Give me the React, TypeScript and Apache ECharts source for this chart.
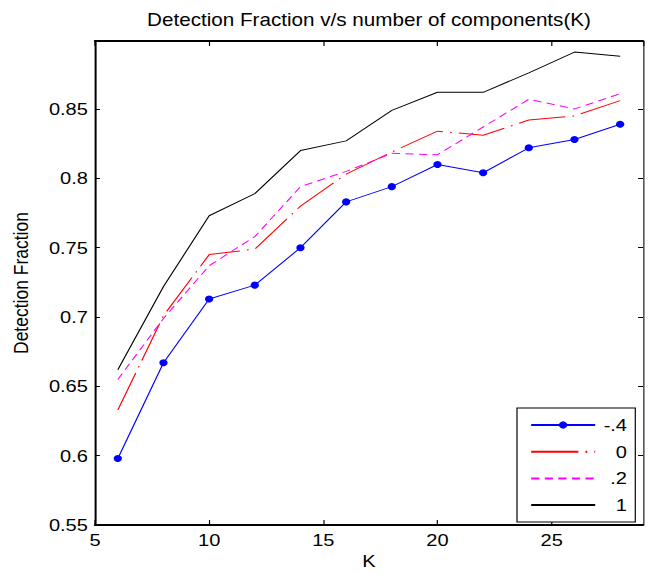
import React, { useEffect, useRef } from "react";
import * as echarts from "echarts";

// Number of components K
const kValues = [6, 8, 10, 12, 14, 16, 18, 20, 22, 24, 26, 28];

// Detection fraction per parameter setting
const seriesNeg04 = [0.598, 0.667, 0.713, 0.723, 0.75, 0.783, 0.794, 0.81, 0.804, 0.822, 0.828, 0.839];
const seriesZero = [0.633, 0.701, 0.745, 0.749, 0.78, 0.803, 0.819, 0.834, 0.831, 0.842, 0.845, 0.856];
const seriesPt2 = [0.655, 0.699, 0.737, 0.758, 0.794, 0.805, 0.818, 0.817, 0.837, 0.857, 0.85, 0.861];
const seriesOne = [0.662, 0.722, 0.773, 0.789, 0.82, 0.827, 0.849, 0.862, 0.862, 0.876, 0.891, 0.888];

const legendNames = ["-.4", "0", ".2", "1"];

const titleText = "Detection Fraction v/s number of components(K)";
const xName = "K";
const yName = "Detection Fraction";

// The figure is drawn narrower and stretched horizontally, like the exported plot.
const PAGE_W = 648;
const PAGE_H = 575;
const CHART_W = 549;
const SX = PAGE_W / CHART_W;

const FONT = "'Liberation Sans', Arial, Helvetica, sans-serif";
const FS = 17;

const pair = (ys: number[]) => kValues.map((k, i) => [k, ys[i]]);

export default function App() {
  const ref = useRef<HTMLDivElement>(null);

  useEffect(() => {
    if (!ref.current) return;
    const chart = echarts.init(ref.current, null, { renderer: "svg" });

    const gridLeft = 95 / SX;
    const gridRight = CHART_W - 643 / SX;
    const gridTop = 41;
    const gridBottom = PAGE_H - 529;

    const xFmt = (v: number) => (Math.abs(v % 5) < 1e-9 ? String(v) : "");
    const yFmt = (v: number) =>
      Math.abs(v * 20 - Math.round(v * 20)) < 1e-6 ? String(Number(v.toFixed(2))) : "";

    const axisText = { color: "#000", fontSize: FS, fontFamily: FONT, fontWeight: "normal" };

    chart.setOption({
      animation: false,
      backgroundColor: "#fff",
      textStyle: { fontFamily: FONT, color: "#000" },
      graphic: [
        {
          type: "text",
          x: (gridLeft + (CHART_W - gridRight)) / 2,
          y: 20,
          style: {
            text: titleText,
            align: "center",
            verticalAlign: "middle",
            fontSize: 17.5,
            fontWeight: "normal",
            fontFamily: FONT,
            fill: "#000",
          },
        },
      ],
      grid: { left: gridLeft, right: gridRight, top: gridTop, bottom: gridBottom },
      xAxis: [
        {
          type: "value",
          position: "bottom",
          min: 5,
          max: 29,
          interval: 5,
          axisLine: { show: true, onZero: false, lineStyle: { color: "#000", width: 2 } },
          axisTick: { show: true, inside: true, length: 5, lineStyle: { color: "#000", width: 1 } },
          axisLabel: { ...axisText, margin: 6, formatter: xFmt, showMaxLabel: false },
          splitLine: { show: false },
          name: xName,
          nameLocation: "middle",
          nameGap: 19,
          nameTextStyle: axisText,
        },
        {
          type: "value",
          position: "top",
          min: 5,
          max: 29,
          interval: 5,
          axisLine: { show: true, onZero: false, lineStyle: { color: "#000", width: 2 } },
          axisTick: { show: true, inside: true, length: 5, lineStyle: { color: "#000", width: 1 } },
          axisLabel: { show: false },
          splitLine: { show: false },
        },
      ],
      yAxis: [
        {
          type: "value",
          position: "left",
          min: 0.55,
          max: 0.899,
          interval: 0.05,
          axisLine: { show: true, onZero: false, lineStyle: { color: "#000", width: 1.7 } },
          axisTick: { show: true, inside: true, length: 4.2, lineStyle: { color: "#000", width: 1 } },
          axisLabel: { ...axisText, margin: 6, formatter: yFmt, showMaxLabel: false },
          splitLine: { show: false },
          name: yName,
          nameLocation: "middle",
          nameGap: 54,
          nameRotate: 90,
          nameTextStyle: { ...axisText, fontSize: 17.5 },
        },
        {
          type: "value",
          position: "right",
          min: 0.55,
          max: 0.899,
          interval: 0.05,
          axisLine: { show: true, onZero: false, lineStyle: { color: "#000", width: 0.9 } },
          axisTick: { show: true, inside: true, length: 4.2, lineStyle: { color: "#000", width: 1 } },
          axisLabel: { show: false },
          splitLine: { show: false },
        },
      ],
      legend: {
        show: true,
        orient: "vertical",
        left: 517 / SX,
        top: 408,
        padding: [8.5, 7, 8.5, 11],
        itemWidth: 64 / SX,
        itemHeight: 9,
        itemGap: 9.7,
        borderColor: "#000",
        borderWidth: 1,
        backgroundColor: "#fff",
        data: [
          { name: legendNames[0] },
          { name: legendNames[1], itemStyle: { opacity: 0 } },
          { name: legendNames[2], itemStyle: { opacity: 0 } },
          { name: legendNames[3], itemStyle: { opacity: 0 } },
        ],
        formatter: (name: string) => `{a|${name}}`,
        textStyle: {
          fontSize: FS,
          fontFamily: FONT,
          color: "#000",
          lineHeight: 17,
          rich: {
            a: { width: 22, align: "right", fontSize: FS, lineHeight: 17, fontFamily: FONT, color: "#000" },
          },
        },
      },
      series: [
        {
          name: legendNames[0],
          type: "line",
          data: pair(seriesNeg04),
          symbol: "circle",
          symbolSize: 7,
          showSymbol: true,
          itemStyle: { color: "#0000ff" },
          lineStyle: { color: "#0000ff", width: 1 },
        },
        {
          name: legendNames[1],
          type: "line",
          data: pair(seriesZero),
          symbol: "none",
          itemStyle: { color: "#ff0000" },
          lineStyle: { color: "#ff0000", width: 1, type: [40, 6, 1.5, 6] },
        },
        {
          name: legendNames[2],
          type: "line",
          data: pair(seriesPt2),
          symbol: "none",
          itemStyle: { color: "#ff00ff" },
          lineStyle: { color: "#ff00ff", width: 1, type: [7, 4.5] },
        },
        {
          name: legendNames[3],
          type: "line",
          data: pair(seriesOne),
          symbol: "none",
          itemStyle: { color: "#000000" },
          lineStyle: { color: "#000000", width: 1 },
        },
      ],
    });

    return () => chart.dispose();
  }, []);

  return (
    <div
      style={{
        position: "fixed",
        left: 0,
        top: 0,
        width: PAGE_W,
        height: PAGE_H,
        overflow: "hidden",
        background: "#fff",
      }}
    >
      <div
        ref={ref}
        style={{
          width: CHART_W,
          height: PAGE_H,
          transform: `scaleX(${SX})`,
          transformOrigin: "0 0",
        }}
      />
    </div>
  );
}
